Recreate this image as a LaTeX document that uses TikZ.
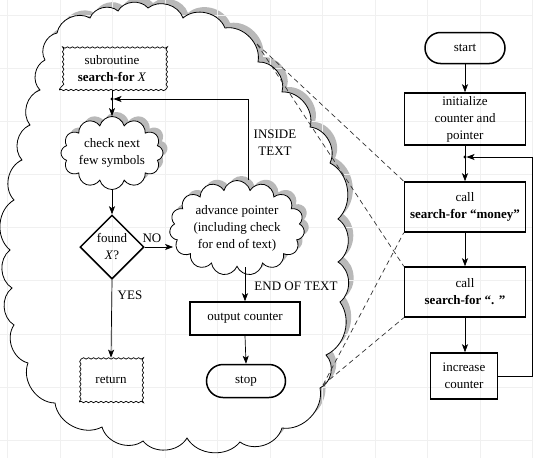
\documentclass[tikz,border=0pt]{standalone}
\usepackage{fontspec}
\setmainfont{Liberation Serif}
\usetikzlibrary{shapes.geometric,shapes.symbols,shapes.misc,arrows.meta,decorations.pathmorphing,shadows}
\begin{document}
\begin{tikzpicture}[x=1pt,y=-1pt,
  every node/.style={font=\fontsize{13}{17}\selectfont, align=center, inner sep=0pt},
  thickbox/.style={draw, line width=1.5pt},
  term/.style={draw, rounded rectangle, line width=1.5pt},
  wavy/.style={draw, line width=0.7pt, decorate, decoration={snake, segment length=5pt, amplitude=0.7pt}},
  puff/.style={draw, cloud, cloud ignores aspect, line width=0.8pt, fill=white,
     drop shadow={shadow xshift=4.5pt, shadow yshift=4.5pt, fill=gray!55, opacity=1}},
  dia/.style={draw, diamond, aspect=1, line width=1.5pt, minimum size=64pt},
  arr/.style={-{Stealth[length=8pt, width=6pt, inset=2pt]}, line width=0.7pt},
  dashline/.style={line width=0.7pt, black!80, dash pattern=on 5pt off 3.5pt},
  gridline/.style={black!6, line width=0.5pt}]
\useasboundingbox (0,0) rectangle (533,458);
\def\bigcloud{(57,33) to[bend left=55] (90,18) to[bend left=55] (118,11) to[bend left=55] (148,8) to[bend left=55] (183,18) to[bend left=55] (225,28) to[bend left=55] (258,62) to[bend left=55] (282,92) to[bend left=55] (310,127) to[bend left=55] (330,163) to[bend left=55] (338,219) to[bend left=55] (338,262) to[bend left=55] (340,302) to[bend left=50] (326,355) to[bend left=55] (320,388) to[bend left=55] (282,428) to[bend left=55] (240,442) to[bend left=55] (187,438) to[bend left=55] (143,441) to[bend left=55] (102,427) to[bend left=55] (55,403) to[bend left=55] (28,363) to[bend left=55] (14,325) to[bend left=55] (12,288) to[bend left=55] (10,250) to[bend left=55] (14,200) to[bend left=55] (22,160) to[bend left=55] (30,125) to[bend left=55] (40,90) to[bend left=55] (45,60) to[bend left=55] (57,33) -- cycle}
% shadow and body of the big cloud
\fill[gray!55, shift={(5,-5)}] \bigcloud;
\fill[white] \bigcloud;
% faint grid
\foreach \gx in {7.5,60,112.5,165,217.5,270,322.5,375,427.5,480,532.5}
  \draw[gridline] (\gx,0) -- (\gx,458);
\foreach \gy in {15,68,121,174,227,280,334,387,440}
  \draw[gridline] (0,\gy) -- (533,\gy);
\draw[line width=0.8pt] \bigcloud;

% subroutine
\node[wavy, minimum width=105pt, minimum height=42pt] (sub) at (112,69) {subroutine\\\textbf{search-for} \textit{X}};
\node[puff, minimum width=102pt, minimum height=73pt, cloud puffs=12] (chk) at (112,153) {check next\\few symbols};
\node[dia] (dia) at (112,247) {found\\\textit{X}?};
\node[wavy, minimum width=63pt, minimum height=44pt] (ret) at (111,380) {return};
\node[puff, minimum width=135pt, minimum height=95pt, cloud puffs=15] (adv) at (237,228) {advance pointer\\(including check\\for end of text)};
\node[thickbox, minimum width=110pt, minimum height=33pt] (out) at (245,318.5) {output counter};
\node[term, minimum width=79pt, minimum height=33pt] (stop) at (246,381) {stop};

% main program
\node[term, minimum width=80pt, minimum height=31pt] (start) at (465,48) {start};
\node[thickbox, minimum width=121pt, minimum height=52pt] (init) at (465,119) {initialize\\counter and\\pointer};
\node[thickbox, minimum width=121pt, minimum height=50pt] (money) at (465,207) {call\\\textbf{search-for “money”}};
\node[thickbox, minimum width=121pt, minimum height=50pt] (dot) at (465,292) {call\\\textbf{search-for “. ”}};
\node[thickbox, minimum width=67pt, minimum height=46pt] (inc) at (464,376) {increase\\counter};

% labels
\node (no) at (152,238) {NO};
\node (yes) at (130,295) {YES};
\node (inside) at (275,143) {INSIDE\\TEXT};
\node (eot) at (296,286) {END OF TEXT};

% connectors in subroutine
\coordinate (j1) at (112,99);
\draw[arr] (sub.south) -- (chk.north);
\fill (j1) circle (1.6);
\draw[arr, shorten >=1.5pt] ([xshift=11pt]adv.north) |- (j1);
\draw[arr] (chk.south) -- (dia.north);
\draw[arr] (dia.east) -- ([xshift=3pt]dia.east -| adv.west);
\draw[arr] (dia.south) -- (ret.north);
\draw[arr] (out.north |- adv.south) -- (out.north);
\draw[arr] (out.south) -- (stop.north);

% connectors in main program
\coordinate (j2) at (465,157);
\coordinate (rr) at (532,157);
\draw[arr] (start.south) -- (init.north);
\draw[arr] (init.south) -- (money.north);
\fill (j2) circle (1.6);
\draw[arr] (money.south) -- (dot.north);
\draw[arr] (dot.south) -- (dot.south |- inc.north);
\draw[arr, shorten >=1.5pt] (inc.east) -| (rr) -- (j2);

% dashed expansion lines
\coordinate (A) at (257,44);
\coordinate (B) at (323,385);
\draw[dashline] (A) -- (money.north west);
\draw[dashline] (A) -- (dot.north west);
\draw[dashline] (B) -- (money.south west);
\draw[dashline] (B) -- (dot.south west);
\end{tikzpicture}
\end{document}
